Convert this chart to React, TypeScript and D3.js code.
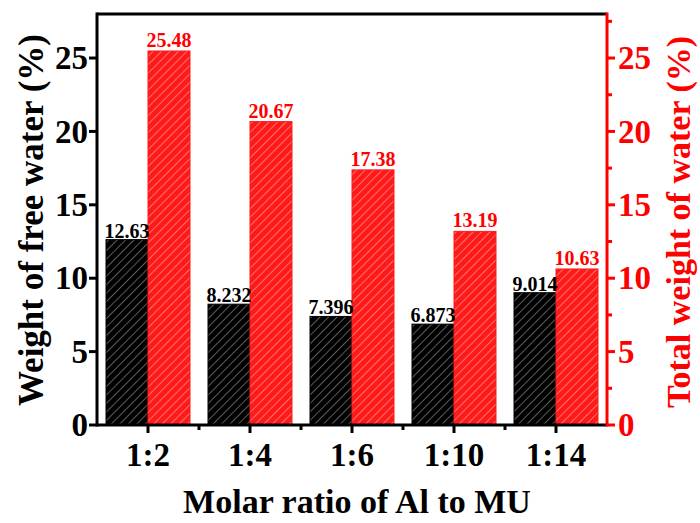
import React from "react";
import * as d3 from "d3";

const categories = ["1:2", "1:4", "1:6", "1:10", "1:14"];
const freeWater = [12.63, 8.232, 7.396, 6.873, 9.014];
const totalWater = [25.48, 20.67, 17.38, 13.19, 10.63];
const freeLabels = ["12.63", "8.232", "7.396", "6.873", "9.014"];
const totalLabels = ["25.48", "20.67", "17.38", "13.19", "10.63"];
const yTicks = [0, 5, 10, 15, 20, 25];
const yMinorTicks = [2.5, 7.5, 12.5, 17.5, 22.5, 27.5];

const W = 700;
const H = 523;
const left = 97;
const right = 607;
const top = 14;
const bottom = 425;
const FONT = "'Liberation Serif', 'Times New Roman', serif";

export default function App() {
  const x = d3.scaleBand<string>().domain(categories).range([left, right]).padding(0);
  const y = d3.scaleLinear().domain([0, 28]).range([bottom, top]);
  const bw = x.bandwidth();
  const barW = 42;
  const boundaries = categories.map((c) => x(c)! + bw);

  return (
    <svg width={W} height={H} style={{ position: "absolute", left: 0, top: 0 }} fontFamily={FONT} fontWeight="bold">
      <defs>
        <pattern id="hatchK" patternUnits="userSpaceOnUse" width={6} height={6} patternTransform="rotate(45)">
          <rect width={6} height={6} fill="#000" />
          <line x1={0} y1={0} x2={0} y2={6} stroke="#9a9a9a" strokeWidth={1.2} />
        </pattern>
        <pattern id="hatchR" patternUnits="userSpaceOnUse" width={6} height={6} patternTransform="rotate(45)">
          <rect width={6} height={6} fill="#ff1a1a" />
          <line x1={0} y1={0} x2={0} y2={6} stroke="#ffaaaa" strokeWidth={1.2} />
        </pattern>
      </defs>
      <rect width={W} height={H} fill="#fff" />

      {/* bars */}
      {categories.map((c, i) => {
        const cx = x(c)! + bw / 2;
        return (
          <g key={c}>
            <rect x={cx - barW} y={y(freeWater[i])} width={barW} height={bottom - y(freeWater[i])} fill="url(#hatchK)" stroke="#000" strokeWidth={1} />
            <rect x={cx} y={y(totalWater[i])} width={barW} height={bottom - y(totalWater[i])} fill="url(#hatchR)" stroke="#ff1a1a" strokeWidth={1} />
            <text x={cx - barW / 2} y={y(freeWater[i]) - 2} textAnchor="middle" fontSize={20} fill="#000">{freeLabels[i]}</text>
            <text x={cx + barW / 2} y={y(totalWater[i]) - 4} textAnchor="middle" fontSize={20} fill="#ff0000">{totalLabels[i]}</text>
          </g>
        );
      })}

      {/* frame: top, bottom, left */}
      <line x1={left} x2={right} y1={top} y2={top} stroke="#000" strokeWidth={3} />
      <line x1={left} x2={right} y1={bottom} y2={bottom} stroke="#000" strokeWidth={3} />
      <line x1={left} x2={left} y1={top - 1.5} y2={bottom + 1.5} stroke="#000" strokeWidth={3} />
      {/* right axis red */}
      <line x1={right} x2={right} y1={top - 1.5} y2={bottom + 1.5} stroke="#ff0000" strokeWidth={3} />

      {/* left ticks */}
      {yTicks.map((t) => (
        <g key={"l" + t}>
          <line x1={left - 8} x2={left} y1={y(t)} y2={y(t)} stroke="#000" strokeWidth={3} />
          <text x={left - 9} y={y(t)} dy="0.34em" textAnchor="end" fontSize={33} fill="#000">{t}</text>
        </g>
      ))}
      {/* right ticks */}
      {yTicks.map((t) => (
        <g key={"r" + t}>
          <line x1={right} x2={right + 8} y1={y(t)} y2={y(t)} stroke="#ff0000" strokeWidth={3} />
          <text x={right + 11} y={y(t)} dy="0.34em" textAnchor="start" fontSize={33} fill="#ff0000">{t}</text>
        </g>
      ))}
      {yMinorTicks.map((t) => (
        <line key={"rm" + t} x1={right} x2={right + 5} y1={y(t)} y2={y(t)} stroke="#ff0000" strokeWidth={3} />
      ))}

      {/* bottom ticks */}
      {categories.map((c) => (
        <g key={"b" + c}>
          <line x1={x(c)! + bw / 2} x2={x(c)! + bw / 2} y1={bottom} y2={bottom + 8} stroke="#000" strokeWidth={3} />
          <text x={x(c)! + bw / 2} y={466} textAnchor="middle" fontSize={33} fill="#000">{c}</text>
        </g>
      ))}
      {boundaries.slice(0, -1).map((b, i) => (
        <line key={"bm" + i} x1={b} x2={b} y1={bottom} y2={bottom + 5} stroke="#000" strokeWidth={3} />
      ))}

      {/* axis titles */}
      <text x={357} y={513} textAnchor="middle" fontSize={34} fill="#000">Molar ratio of Al to MU</text>
      <text transform={`translate(43,220) rotate(-90)`} textAnchor="middle" fontSize={35} fill="#000">Weight of free water (%)</text>
      <text transform={`translate(690,222) rotate(-90)`} textAnchor="middle" fontSize={34} fill="#ff0000">Total weight of water (%)</text>
    </svg>
  );
}
